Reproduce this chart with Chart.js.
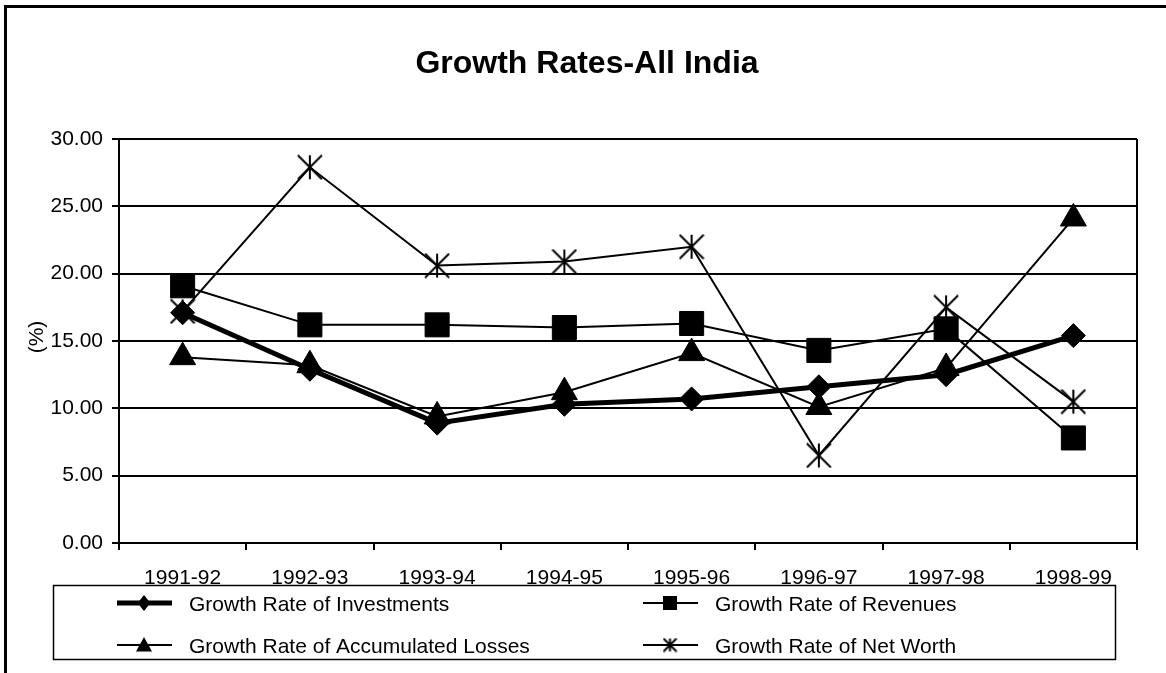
<!DOCTYPE html>
<html lang="en">
<head>
<meta charset="UTF-8">
<title>Growth Rates-All India</title>
<script src="https://cdn.jsdelivr.net/npm/chart.js"></script>
<style>
  html, body { margin: 0; padding: 0; background: #fff; }
  #wrap { width: 1166px; height: 673px; }
</style>
</head>
<body>
<div id="wrap"><canvas id="growthChart" width="1166" height="673"></canvas></div>
<script>
// data (%)
const years = ['1991-92', '1992-93', '1993-94', '1994-95', '1995-96', '1996-97', '1997-98', '1998-99'];
const investments = [17.1, 12.9, 8.9, 10.3, 10.7, 11.6, 12.5, 15.4];
const revenues = [19.1, 16.2, 16.2, 16.0, 16.3, 14.3, 15.9, 7.8];
const accLosses = [13.8, 13.2, 9.4, 11.2, 14.1, 10.1, 13.0, 24.1];
const netWorth = [17.2, 27.9, 20.6, 20.9, 22.0, 6.5, 17.5, 10.5];
const yTicks = [0, 5, 10, 15, 20, 25, 30];

const chartTitle = 'Growth Rates-All India';
const yTitle = '(%)';
const FONT = '"Liberation Sans", Arial, sans-serif';

// asterisk marker: X plus a vertical bar
function makeStar(size, lw) {
    const c = document.createElement('canvas');
    c.width = size; c.height = size;
    const g = c.getContext('2d');
    g.strokeStyle = '#000';
    g.lineWidth = lw;
    const p = 1, s = size - 1, m = size / 2;
    g.beginPath();
    g.moveTo(p, p); g.lineTo(s, s);
    g.moveTo(s, p); g.lineTo(p, s);
    g.moveTo(m, p); g.lineTo(m, s);
    g.stroke();
    return c;
}
const bigStar = makeStar(26, 2);
const smallStar = makeStar(15, 2);

function drawMarker(ctx, kind, x, y, r) {
    ctx.beginPath();
    if (kind === 'rect') {
        ctx.rect(x - r, y - r, 2 * r, 2 * r);
    } else if (kind === 'rectRot') {
        ctx.moveTo(x, y - r); ctx.lineTo(x + r * 0.8, y); ctx.lineTo(x, y + r); ctx.lineTo(x - r * 0.8, y);
        ctx.closePath();
    } else if (kind === 'triangle') {
        ctx.moveTo(x, y - r); ctx.lineTo(x + r, y + r * 0.8); ctx.lineTo(x - r, y + r * 0.8);
        ctx.closePath();
    }
    ctx.fill();
}

const decor = {
    id: 'decor',
    beforeDraw(chart) {
        const ctx = chart.ctx;
        ctx.save();
        ctx.fillStyle = '#fff';
        ctx.fillRect(0, 0, chart.width, chart.height);
        ctx.fillStyle = '#000';
        // frame (top + left only, as cropped in the original)
        ctx.fillRect(4, 5, chart.width - 4, 3);
        ctx.fillRect(4, 5, 3, chart.height - 5);
        ctx.font = 'bold 32px ' + FONT;
        ctx.textAlign = 'center';
        ctx.textBaseline = 'middle';
        ctx.fillText(chartTitle, 587, 64);
        ctx.translate(37, 337);
        ctx.rotate(-Math.PI / 2);
        ctx.font = '21px ' + FONT;
        ctx.fillText(yTitle, 0, 0);
        ctx.restore();
    },
    beforeDatasetsDraw(chart) {
        const ctx = chart.ctx, a = chart.chartArea;
        ctx.save();
        ctx.strokeStyle = '#000';
        ctx.lineWidth = 2;
        ctx.beginPath();
        ctx.moveTo(a.right, a.top);
        ctx.lineTo(a.right, a.bottom);
        ctx.stroke();
        ctx.restore();
    },
    afterDraw(chart) {
        const ctx = chart.ctx;
        ctx.save();
        ctx.strokeStyle = '#000';
        ctx.fillStyle = '#000';
        ctx.lineWidth = 1.5;
        ctx.strokeRect(53.5, 585.5, 1062, 74);

        const items = [
            { ds: 0, x: 117, y: 603, text: 'Growth Rate of Investments', mk: 'rectRot', r: 8 },
            { ds: 2, x: 117, y: 645, text: 'Growth Rate of Accumulated Losses', mk: 'triangle', r: 8 },
            { ds: 1, x: 643, y: 603, text: 'Growth Rate of Revenues', mk: 'rect', r: 7 },
            { ds: 3, x: 643, y: 645, text: 'Growth Rate of Net Worth', mk: 'star', r: 7 }
        ];
        ctx.font = '21px ' + FONT;
        ctx.textBaseline = 'middle';
        ctx.textAlign = 'left';
        items.forEach(it => {
            const d = chart.data.datasets[it.ds];
            ctx.lineWidth = d.borderWidth;
            ctx.beginPath();
            ctx.moveTo(it.x, it.y);
            ctx.lineTo(it.x + 55, it.y);
            ctx.stroke();
            const cx = it.x + 27;
            if (it.mk === 'star') {
                ctx.drawImage(smallStar, cx - smallStar.width / 2, it.y - smallStar.height / 2);
            } else {
                drawMarker(ctx, it.mk, cx, it.y, it.r);
            }
            ctx.fillText(it.text, it.x + 72, it.y + 2);
        });
        ctx.restore();
    }
};

const tickFont = { family: FONT, size: 21 };

const ctx = document.getElementById('growthChart').getContext('2d');
new Chart(ctx, {
    type: 'line',
    data: {
        labels: years,
        datasets: [
            {
                label: 'Growth Rate of Investments',
                data: investments,
                borderColor: '#000',
                borderWidth: 5,
                pointStyle: 'rectRot',
                pointRadius: 12,
                pointBackgroundColor: '#000',
                pointBorderColor: '#000',
                pointBorderWidth: 1
            },
            {
                label: 'Growth Rate of Revenues',
                data: revenues,
                borderColor: '#000',
                borderWidth: 2,
                pointStyle: 'rect',
                pointRadius: 17,
                pointBackgroundColor: '#000',
                pointBorderColor: '#000',
                pointBorderWidth: 1
            },
            {
                label: 'Growth Rate of Accumulated Losses',
                data: accLosses,
                borderColor: '#000',
                borderWidth: 2,
                pointStyle: 'triangle',
                pointRadius: 15,
                pointBackgroundColor: '#000',
                pointBorderColor: '#000',
                pointBorderWidth: 1
            },
            {
                label: 'Growth Rate of Net Worth',
                data: netWorth,
                borderColor: '#000',
                borderWidth: 2,
                pointStyle: bigStar,
                pointRadius: 13
            }
        ]
    },
    options: {
        responsive: false,
        animation: false,
        layout: { padding: { left: 0, top: 139, right: 29, bottom: 0 } },
        elements: { line: { tension: 0 } },
        plugins: {
            legend: { display: false },
            tooltip: { enabled: false },
            title: { display: false }
        },
        scales: {
            x: {
                offset: true,
                afterFit: s => { s.height = 130; },
                border: { display: true, color: '#000', width: 2 },
                grid: { display: true, drawOnChartArea: false, drawTicks: true, offset: true, tickLength: 7, color: '#000', lineWidth: 2 },
                ticks: { color: '#000', font: tickFont, padding: 16, maxRotation: 0, autoSkip: false }
            },
            y: {
                min: 0,
                max: 30,
                afterFit: s => { s.width = 119; },
                afterBuildTicks: s => { s.ticks = yTicks.map(v => ({ value: v })); },
                border: { display: true, color: '#000', width: 2 },
                grid: { color: '#000', lineWidth: 2, tickLength: 7 },
                ticks: { color: '#000', font: tickFont, padding: 9, callback: v => Number(v).toFixed(2) }
            }
        }
    },
    plugins: [decor]
});
</script>
</body>
</html>
